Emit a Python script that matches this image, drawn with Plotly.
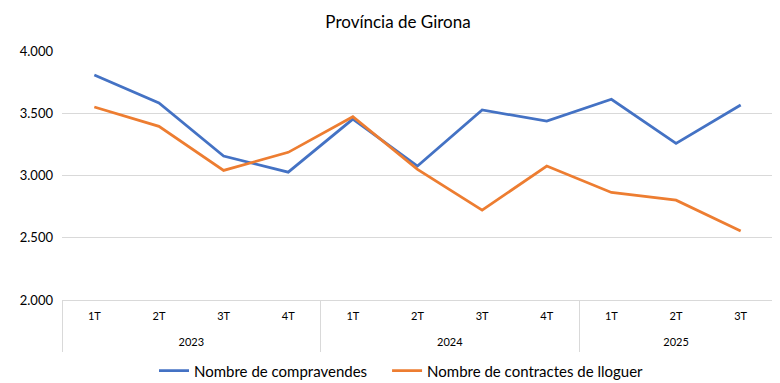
import plotly.graph_objects as go

years = ["2023"] * 4 + ["2024"] * 4 + ["2025"] * 3
quarters = ["1T", "2T", "3T", "4T", "1T", "2T", "3T", "4T", "1T", "2T", "3T"]
compravendes = [3807, 3582, 3156, 3027, 3453, 3076, 3526, 3437, 3612, 3258, 3566]
lloguer = [3550, 3395, 3041, 3186, 3472, 3049, 2722, 3076, 2864, 2802, 2555]
year_labels = ["2023", "2024", "2025"]

FONT = "Lato"

# unique category keys for each period, labelled by the quarter
keys = [f"{y} {q}" for y, q in zip(years, quarters)]
# year groups: centre and boundaries in category index units
counts = [years.count(y) for y in year_labels]
bounds = [-0.5]
for c in counts:
    bounds.append(bounds[-1] + c)
centres = [(bounds[i] + bounds[i + 1]) / 2 for i in range(len(counts))]

fig = go.Figure()
fig.add_trace(go.Scatter(x=keys, y=compravendes, mode="lines",
                         name="Nombre de compravendes", legend="legend",
                         line=dict(color="#4472C4", width=2.75)))
fig.add_trace(go.Scatter(x=keys, y=lloguer, mode="lines",
                         name="Nombre de contractes de lloguer", legend="legend2",
                         line=dict(color="#ED7D31", width=2.75)))
# empty carrier trace so that the year-group axis is drawn
fig.add_trace(go.Scatter(x=centres, y=[None] * len(centres), xaxis="x2", yaxis="y",
                         mode="markers", showlegend=False, hoverinfo="skip"))

legend_common = dict(orientation="h", yanchor="middle", y=-0.285, xanchor="left",
                     font=dict(family=FONT, size=15, color="#000000"), itemwidth=30,
                     bgcolor="rgba(0,0,0,0)")

# page body has an 8px margin, so the figure is 8px smaller than the window
fig.update_layout(
    width=772, height=375,
    margin=dict(l=54, r=7, t=43, b=83, autoexpand=False),
    paper_bgcolor="white", plot_bgcolor="white",
    separators=",.",
    font=dict(family=FONT, color="#404040", size=12),
    title=dict(text="Província de Girona", x=0.4726, xanchor="center",
               xref="paper", yref="container", y=1 - 14 / 375, yanchor="middle",
               font=dict(family=FONT, size=17, color="#000000")),
    legend=dict(legend_common, x=0.1294),
    legend2=dict(legend_common, x=0.4572),
    showlegend=True,
    xaxis=dict(type="category", range=[-0.5, len(keys) - 0.5], automargin=False,
               tickmode="array", tickvals=keys, ticktext=quarters,
               showline=True, linecolor="#D9D9D9", linewidth=1,
               showgrid=False, ticks="", ticklabelstandoff=6,
               tickfont=dict(family=FONT, size=11, color="#000000")),
    xaxis2=dict(type="linear", overlaying="x", anchor="y", side="bottom",
                range=[-0.5, len(keys) - 0.5], automargin=False,
                tickmode="array", tickvals=centres, ticktext=year_labels,
                showgrid=False, zeroline=False, showline=False, ticks="",
                ticklabelstandoff=34,
                minor=dict(tickmode="array", tickvals=bounds, ticks="outside",
                           ticklen=51, tickwidth=1, tickcolor="#D9D9D9", showgrid=False),
                tickfont=dict(family=FONT, size=11, color="#000000")),
)
fig.update_yaxes(range=[2000, 4000], dtick=500, tickformat=",.0f", automargin=False,
                 showgrid=True, gridcolor="#D9D9D9", gridwidth=1,
                 zeroline=False, showline=False, ticks="", ticklabelstandoff=8,
                 tickfont=dict(family=FONT, size=13, color="#000000"))

fig.write_html("out.html")
